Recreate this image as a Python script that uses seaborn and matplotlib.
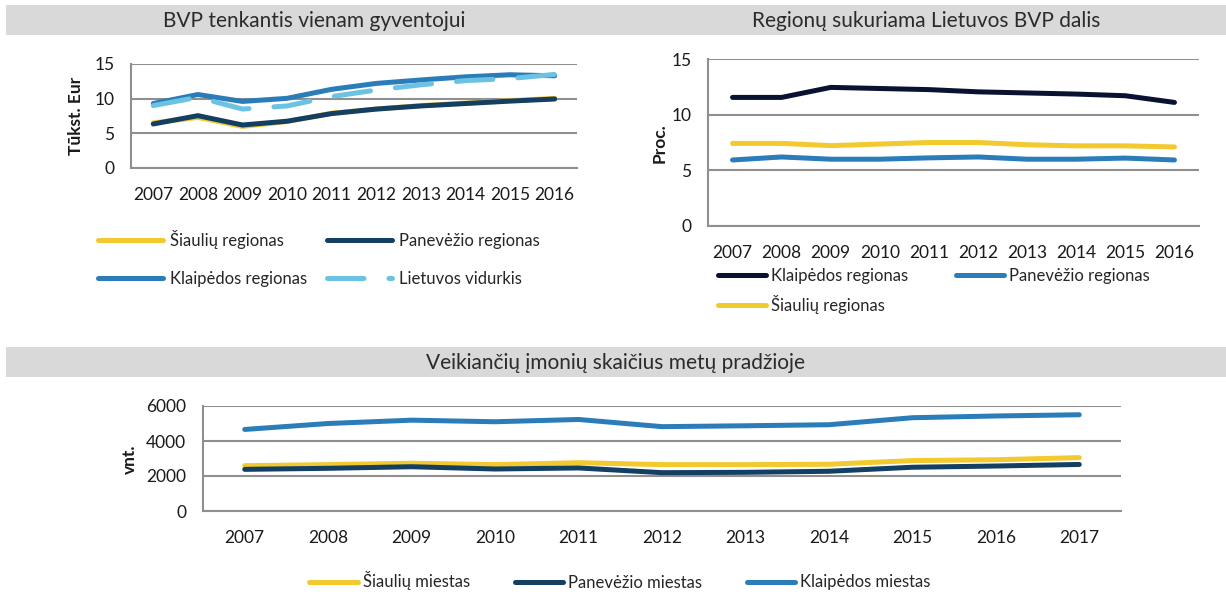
import numpy as np
import pandas as pd
import matplotlib
matplotlib.use("Agg")
import matplotlib.pyplot as plt
from matplotlib.patches import Rectangle
import seaborn as sns

# ---------------- data ----------------
years_a = ["2007", "2008", "2009", "2010", "2011", "2012", "2013", "2014", "2015", "2016"]
bvp_siauliu = [6.5, 7.3, 6.0, 6.7, 7.9, 8.5, 9.0, 9.35, 9.7, 10.05]
bvp_panevezio = [6.35, 7.55, 6.2, 6.75, 7.85, 8.5, 8.95, 9.3, 9.65, 9.95]
bvp_klaipedos = [9.3, 10.6, 9.6, 10.05, 11.35, 12.2, 12.7, 13.15, 13.45, 13.3]
bvp_lietuvos = [9.0, 10.2, 8.5, 8.95, 10.3, 11.25, 12.0, 12.6, 12.9, 13.5]

dalis_klaipedos = [11.55, 11.55, 12.45, 12.35, 12.25, 12.05, 11.95, 11.85, 11.7, 11.1]
dalis_panevezio = [5.93, 6.2, 6.0, 6.0, 6.12, 6.2, 6.0, 6.0, 6.1, 5.93]
dalis_siauliu = [7.42, 7.42, 7.22, 7.36, 7.5, 7.5, 7.3, 7.2, 7.2, 7.1]

years_b = ["2007", "2008", "2009", "2010", "2011", "2012", "2013", "2014", "2015", "2016", "2017"]
imones_siauliu = [2590, 2650, 2730, 2650, 2760, 2650, 2650, 2670, 2880, 2930, 3050]
imones_panevezio = [2380, 2440, 2530, 2400, 2460, 2190, 2210, 2270, 2500, 2570, 2660]
imones_klaipedos = [4660, 5000, 5190, 5100, 5230, 4820, 4870, 4930, 5330, 5430, 5500]

titles = ["BVP tenkantis vienam gyventojui",
          "Regionų sukuriama Lietuvos BVP dalis",
          "Veikiančių įmonių skaičius metų pradžioje"]

# ---------------- style ----------------
sns.set_style("white")
plt.rcParams["font.family"] = ["Lato", "DejaVu Sans"]

YELLOW = "#F2C92E"
NAVY = "#123F62"
BLUE = "#2A7DB8"
LIGHT = "#6CC2E2"
DARKNAVY = "#0A1232"
GRID = "#8F8F8F"
TXT = "#1A1A1A"

W, H = 1226, 592
fig = plt.figure(figsize=(W / 100, H / 100), dpi=100)


def fx(px):
    return px / W


def fy(py):
    return 1 - py / H


def make_ax(x0, x1, y0, y1):
    return fig.add_axes([fx(x0), fy(y1), fx(x1) - fx(x0), (y1 - y0) / H])


def style_ax(ax, n, yticks, ylim):
    ax.set_xlim(-0.5, n - 0.5)
    ax.set_ylim(*ylim)
    ax.set_yticks(yticks)
    ax.set_xticks(np.arange(-0.5, n, 1.0), minor=True)
    for s in ["top", "right"]:
        ax.spines[s].set_visible(False)
    for s in ["left", "bottom"]:
        ax.spines[s].set_color(GRID)
        ax.spines[s].set_linewidth(1.5)
    ax.yaxis.grid(True, color=GRID, linewidth=1.5)
    ax.xaxis.grid(False)
    ax.set_axisbelow(True)
    ax.tick_params(axis="x", which="major", length=0, pad=14, labelsize=12.5, labelcolor=TXT)
    ax.tick_params(axis="x", which="minor", length=4.5, width=1.5, color=GRID, direction="out")
    ax.tick_params(axis="y", which="major", length=4, width=1.5, color=GRID, direction="out",
                   pad=8, labelsize=12.5, labelcolor=TXT)
    ax.set_xlabel("")
    ax.set_ylabel("")
    if ax.get_legend() is not None:
        ax.get_legend().remove()


def draw(ax, x, y, color, label, dashed=False):
    df = pd.DataFrame({"year": x, "value": y})
    kw = dict(solid_capstyle="round", solid_joinstyle="round",
              dash_capstyle="round", dash_joinstyle="round")
    sns.lineplot(data=df, x="year", y="value", ax=ax, color=color, linewidth=3.6,
                 label=label, sort=False, **kw)
    line = ax.get_lines()[-1]
    if dashed:
        line.set_dashes((7.3, 5.0))


# ---------------- title bands ----------------
for (y0, y1) in [(5, 35), (347, 377)]:
    fig.patches.append(Rectangle((fx(6), fy(y1)), fx(1226) - fx(6), (y1 - y0) / H,
                                 transform=fig.transFigure, facecolor="#D9D9D9",
                                 edgecolor="none", zorder=0))
TCOL = "#2B2B2B"
fig.text(fx(314), fy(21), titles[0], ha="center", va="center", fontsize=15,
         color=TCOL)
fig.text(fx(926), fy(21), titles[1], ha="center", va="center", fontsize=15,
         color=TCOL)
fig.text(fx(616), fy(363), titles[2], ha="center", va="center", fontsize=15,
         color=TCOL)

# ---------------- chart 1 ----------------
ax1 = make_ax(131, 577, 64, 168)
draw(ax1, years_a, bvp_siauliu, YELLOW, "Šiaulių regionas")
draw(ax1, years_a, bvp_panevezio, NAVY, "Panevėžio regionas")
draw(ax1, years_a, bvp_klaipedos, BLUE, "Klaipėdos regionas")
draw(ax1, years_a, bvp_lietuvos, LIGHT, "Lietuvos vidurkis", dashed=True)
style_ax(ax1, len(years_a), [0, 5, 10, 15], (0, 15))
fig.text(fx(76), fy(116), "Tūkst. Eur", rotation=90, ha="center", va="center",
         fontsize=12.5, fontweight="bold", color=TXT)
h, l = ax1.get_legend_handles_labels()
d = dict(zip(l, h))
order = ["Šiaulių regionas", "Klaipėdos regionas", "Panevėžio regionas", "Lietuvos vidurkis"]
fig.legend([d[k] for k in order], order, loc="center left",
           bbox_to_anchor=(fx(98), fy(258.5)), ncol=2, frameon=False, fontsize=12,
           handlelength=3.9, handletextpad=0.45, columnspacing=1.15, labelspacing=1.3,
           borderpad=0, borderaxespad=0)

# ---------------- chart 2 ----------------
ax2 = make_ax(708, 1199, 59, 226)
draw(ax2, years_a, dalis_klaipedos, DARKNAVY, "Klaipėdos regionas")
draw(ax2, years_a, dalis_panevezio, BLUE, "Panevėžio regionas")
draw(ax2, years_a, dalis_siauliu, YELLOW, "Šiaulių regionas")
style_ax(ax2, len(years_a), [0, 5, 10, 15], (0, 15))
fig.text(fx(660), fy(143), "Proc.", rotation=90, ha="center", va="center",
         fontsize=12.5, fontweight="bold", color=TXT)
h, l = ax2.get_legend_handles_labels()
d = dict(zip(l, h))
order = ["Klaipėdos regionas", "Šiaulių regionas", "Panevėžio regionas"]
fig.legend([d[k] for k in order], order, loc="center left",
           bbox_to_anchor=(fx(718), fy(291)), ncol=2, frameon=False, fontsize=12,
           handlelength=2.9, handletextpad=0.3, columnspacing=2.85, labelspacing=0.65,
           borderpad=0, borderaxespad=0)

# ---------------- chart 3 ----------------
ax3 = make_ax(203, 1121, 406, 511)
draw(ax3, years_b, imones_siauliu, YELLOW, "Šiaulių miestas")
draw(ax3, years_b, imones_panevezio, NAVY, "Panevėžio miestas")
draw(ax3, years_b, imones_klaipedos, BLUE, "Klaipėdos miestas")
style_ax(ax3, len(years_b), [0, 2000, 4000, 6000], (0, 6000))
fig.text(fx(130), fy(459), "vnt.", rotation=90, ha="center", va="center",
         fontsize=12.5, fontweight="bold", color=TXT)
h, l = ax3.get_legend_handles_labels()
fig.legend(h, l, loc="center", bbox_to_anchor=(fx(620), fy(581)), ncol=3, frameon=False,
           fontsize=12, handlelength=2.9, handletextpad=0.3, columnspacing=2.7,
           borderpad=0, borderaxespad=0)

fig.savefig("out.png", dpi=100, facecolor="white")
